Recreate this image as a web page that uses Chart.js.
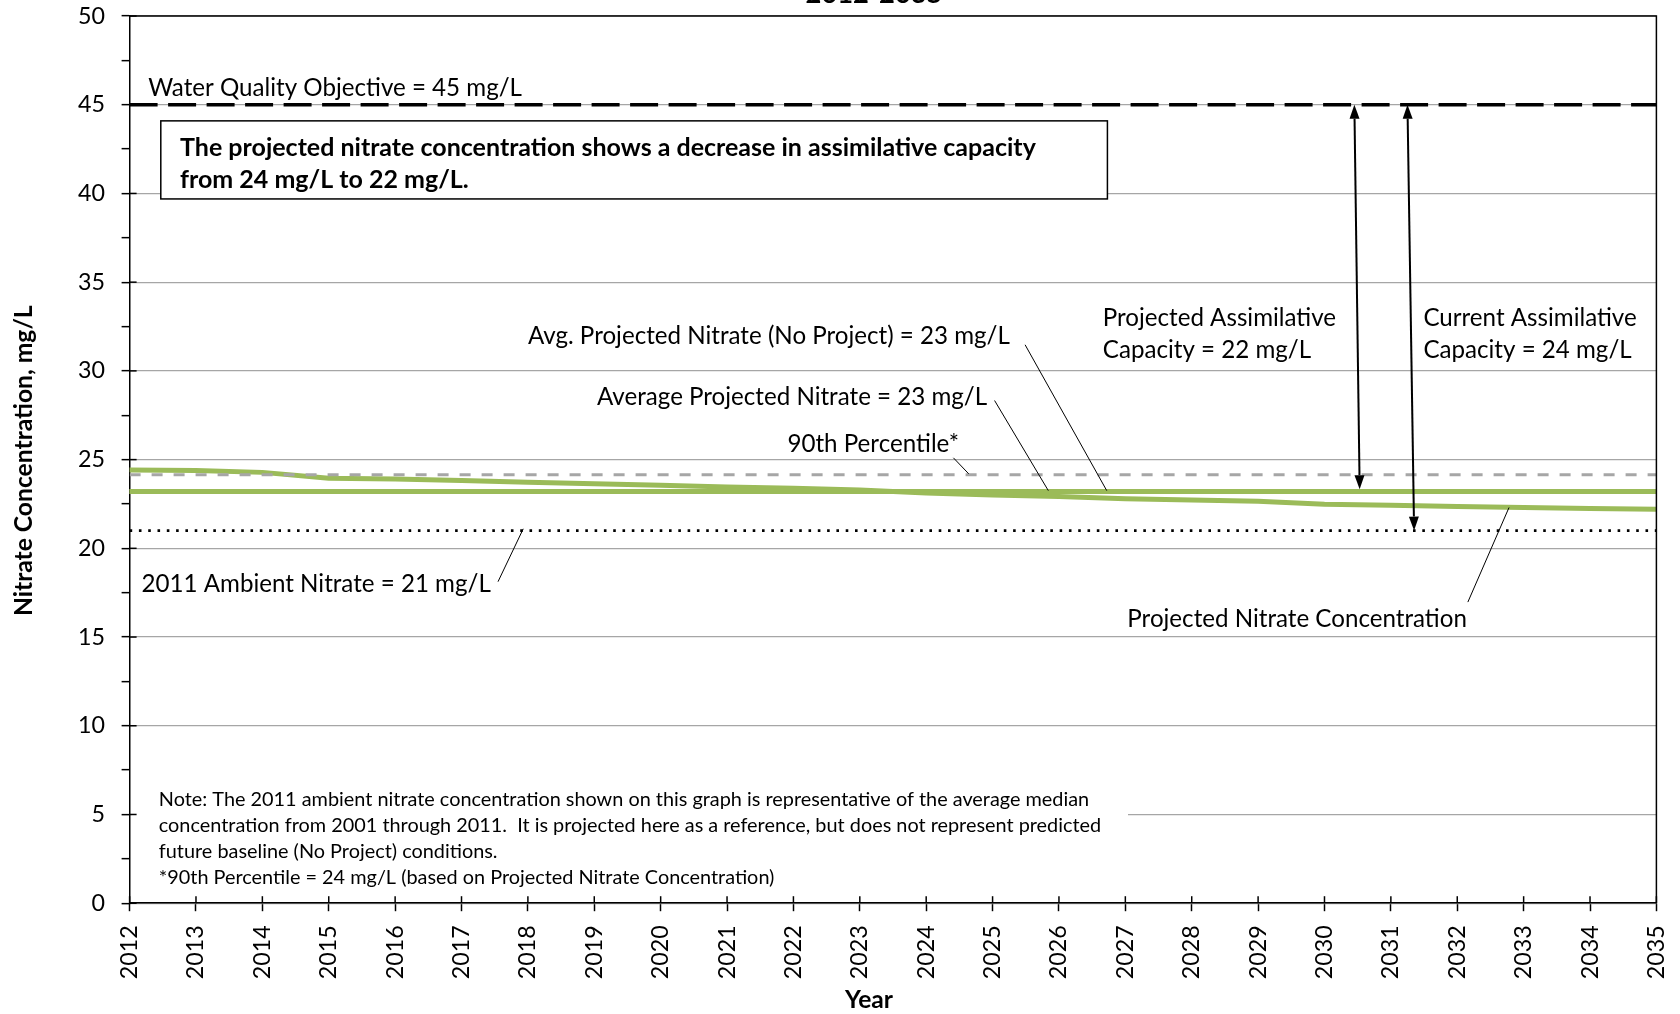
<!DOCTYPE html>
<html><head><meta charset="utf-8">
<script src="https://cdn.jsdelivr.net/npm/chart.js@4"></script>
<style>html,body{margin:0;padding:0;background:#fff;overflow:hidden;}</style>
</head><body>
<canvas id="c" width="1680" height="1014"></canvas>
<script>
// ---------------- data ----------------
const years = [2012,2013,2014,2015,2016,2017,2018,2019,2020,2021,2022,2023,2024,2025,2026,2027,2028,2029,2030,2031,2032,2033,2034,2035];
const projectedNitrate = [24.42,24.38,24.28,23.95,23.90,23.82,23.72,23.64,23.56,23.46,23.38,23.28,23.12,23.00,22.92,22.80,22.73,22.65,22.48,22.43,22.36,22.30,22.25,22.20];
const averageProjected = [23.2,23.2,23.2,23.2,23.2,23.2,23.2,23.2,23.2,23.2,23.2,23.2,23.2,23.2,23.2,23.2,23.2,23.2,23.2,23.2,23.2,23.2,23.2,23.2];
const avgProjectedNoProject = [23.2,23.2,23.2,23.2,23.2,23.2,23.2,23.2,23.2,23.2,23.2,23.2,23.2,23.2,23.2,23.2,23.2,23.2,23.2,23.2,23.2,23.2,23.2,23.2];
const percentile90 = [24.15,24.15,24.15,24.15,24.15,24.15,24.15,24.15,24.15,24.15,24.15,24.15,24.15,24.15,24.15,24.15,24.15,24.15,24.15,24.15,24.15,24.15,24.15,24.15];
const ambient2011 = [21,21,21,21,21,21,21,21,21,21,21,21,21,21,21,21,21,21,21,21,21,21,21,21];
const waterQualityObjective = [45,45,45,45,45,45,45,45,45,45,45,45,45,45,45,45,45,45,45,45,45,45,45,45];
const yMin = 0, yMax = 50, yMajorStep = 5, yMinorStep = 2.5;

// annotation texts (anchored in data coordinates)
const titleText = '2012-2035';
const yTitle = 'Nitrate Concentration, mg/L';
const xTitle = 'Year';
const labels = [
  {t:'Water Quality Objective = 45 mg/L', x:2012.28, y:45.95},
  {t:'Avg. Projected Nitrate (No Project) = 23 mg/L', x:2018.0, y:31.95},
  {t:'Average Projected Nitrate = 23 mg/L', x:2019.04, y:28.51},
  {t:'90th Percentile*', x:2021.91, y:25.85},
  {t:'2011 Ambient Nitrate = 21 mg/L', x:2012.18, y:18.0},
  {t:'Projected Nitrate Concentration', x:2027.03, y:16.0},
  {t:'Projected Assimilative', x:2026.66, y:32.98},
  {t:'Capacity = 22 mg/L', x:2026.66, y:31.16},
  {t:'Current Assimilative', x:2031.49, y:32.98},
  {t:'Capacity = 24 mg/L', x:2031.49, y:31.16}
];
const leaders = [
  [2025.49,31.47,2026.72,23.25],
  [2025.03,28.33,2025.84,23.25],
  [2024.41,25.10,2024.64,24.20],
  [2017.55,18.12,2017.93,21.1],
  [2032.16,16.97,2032.78,22.30]
];
const arrows = [
  [2030.45,45,2030.53,23.33],
  [2031.25,45,2031.35,21.0]
];
const boxText = ['The projected nitrate concentration shows a decrease in assimilative capacity','from 24 mg/L to 22 mg/L.'];
const boxRect = {x1:2012.47, y1:44.09, x2:2026.73, y2:39.69, tx:2012.76, ty:[42.57,40.77]};
const noteText = ['Note: The 2011 ambient nitrate concentration shown on this graph is representative of the average median',
 'concentration from 2001 through 2011.  It is projected here as a reference, but does not represent predicted',
 'future baseline (No Project) conditions.',
 '*90th Percentile = 24 mg/L (based on Projected Nitrate Concentration)'];
const noteRect = {x1:2012.03, y1:6.7, x2:2027.04, y2:0.6, tx:2012.44, ty:[5.86,4.35,2.90,1.45]};

// ---------------- fonts ----------------
const FAMILY = 'Lato, "Open Sans", sans-serif';
const mctx = document.createElement('canvas').getContext('2d');
function fitSize(text, width, weight){ mctx.font = weight+' 100px '+FAMILY; return 100*width/mctx.measureText(text).width; }
const SZ_ANN = fitSize('Water Quality Objective = 45 mg/L', 374, 'normal');
const SZ_BOX = fitSize(boxText[0], 856, 'bold');
const SZ_NOTE = fitSize(noteText[0], 931, 'normal');
const SZ_TICK = fitSize('50', 27, 'normal');
const SZ_AXT = fitSize(yTitle, 311, 'bold');
const SZ_TITLE = fitSize(titleText, 137, 'bold');

const pts = arr => years.map((yr,i)=>({x:yr, y:arr[i]}));

const annot = {
  id:'annot',
  beforeDatasetsDraw(chart){
    const {ctx, scales:{x,y}} = chart;
    ctx.save();
    ctx.fillStyle='#fff';
    ctx.fillRect(x.getPixelForValue(noteRect.x1), y.getPixelForValue(noteRect.y1),
      x.getPixelForValue(noteRect.x2)-x.getPixelForValue(noteRect.x1), y.getPixelForValue(noteRect.y2)-y.getPixelForValue(noteRect.y1));
    const bx=x.getPixelForValue(boxRect.x1), by=y.getPixelForValue(boxRect.y1);
    const bw=x.getPixelForValue(boxRect.x2)-bx, bh=y.getPixelForValue(boxRect.y2)-by;
    ctx.fillRect(bx,by,bw,bh);
    ctx.strokeStyle='#000'; ctx.lineWidth=1.5; ctx.strokeRect(bx,by,bw,bh);
    ctx.restore();
  },
  afterDatasetsDraw(chart){
    const {ctx, chartArea:ca, scales:{x,y}} = chart;
    ctx.save();
    ctx.strokeStyle='#000'; ctx.lineWidth=1;
    leaders.forEach(l=>{ ctx.beginPath(); ctx.moveTo(x.getPixelForValue(l[0]), y.getPixelForValue(l[1])); ctx.lineTo(x.getPixelForValue(l[2]), y.getPixelForValue(l[3])); ctx.stroke(); });
    arrows.forEach(a=>{
      const x1=x.getPixelForValue(a[0]), y1=y.getPixelForValue(a[1]), x2=x.getPixelForValue(a[2]), y2=y.getPixelForValue(a[3]);
      const ang=Math.atan2(y2-y1,x2-x1), L=14, W=5;
      ctx.strokeStyle='#000'; ctx.lineWidth=2;
      ctx.beginPath(); ctx.moveTo(x1+Math.cos(ang)*L, y1+Math.sin(ang)*L); ctx.lineTo(x2-Math.cos(ang)*L, y2-Math.sin(ang)*L); ctx.stroke();
      ctx.fillStyle='#000';
      [[x1,y1,ang+Math.PI],[x2,y2,ang]].forEach(([px,py,d])=>{
        const bx=px-Math.cos(d)*L, byy=py-Math.sin(d)*L;
        ctx.beginPath(); ctx.moveTo(px,py);
        ctx.lineTo(bx+Math.cos(d+Math.PI/2)*W, byy+Math.sin(d+Math.PI/2)*W);
        ctx.lineTo(bx-Math.cos(d+Math.PI/2)*W, byy-Math.sin(d+Math.PI/2)*W);
        ctx.closePath(); ctx.fill();
      });
    });
    ctx.fillStyle='#000'; ctx.textBaseline='middle'; ctx.textAlign='left';
    ctx.font = 'normal '+SZ_ANN+'px '+FAMILY;
    labels.forEach(l=> ctx.fillText(l.t, x.getPixelForValue(l.x), y.getPixelForValue(l.y)));
    ctx.font = 'bold '+SZ_BOX+'px '+FAMILY;
    boxText.forEach((t,i)=> ctx.fillText(t, x.getPixelForValue(boxRect.tx), y.getPixelForValue(boxRect.ty[i])));
    ctx.font = 'normal '+SZ_NOTE+'px '+FAMILY;
    noteText.forEach((t,i)=> ctx.fillText(t, x.getPixelForValue(noteRect.tx), y.getPixelForValue(noteRect.ty[i])));
    ctx.strokeStyle='#000'; ctx.lineWidth=1.5;
    ctx.beginPath(); ctx.moveTo(ca.left, ca.top); ctx.lineTo(ca.right, ca.top); ctx.lineTo(ca.right, ca.bottom); ctx.stroke();
    for(let v=yMin; v<=yMax; v+=yMajorStep){ const py=y.getPixelForValue(v); ctx.beginPath(); ctx.moveTo(ca.left,py); ctx.lineTo(ca.left+7,py); ctx.stroke(); }
    years.forEach(yr=>{ const px=x.getPixelForValue(yr); ctx.beginPath(); ctx.moveTo(px,ca.bottom); ctx.lineTo(px,ca.bottom-7); ctx.stroke(); });
    ctx.font='bold '+SZ_AXT+'px '+FAMILY; ctx.textAlign='center'; ctx.textBaseline='middle';
    ctx.fillText(xTitle, 869, 1000.5);
    ctx.save(); ctx.translate(23.6, 460.7); ctx.rotate(-Math.PI/2); ctx.fillText(yTitle,0,0); ctx.restore();
    ctx.font='bold '+SZ_TITLE+'px '+FAMILY; ctx.textBaseline='alphabetic';
    ctx.fillText(titleText, 874, 2.7);
    ctx.restore();
  }
};

function zeroPad(s){ s.paddingLeft=0; s.paddingRight=0; s.paddingTop=0; s.paddingBottom=0; }

const green='#9BBB59';
new Chart(document.getElementById('c').getContext('2d'), {
  type:'line',
  data:{datasets:[
    {label:'Water Quality Objective = 45 mg/L', data:pts(waterQualityObjective), borderColor:'#000', borderWidth:3.5, borderDash:[28,10.5]},
    {label:'2011 Ambient Nitrate = 21 mg/L', data:pts(ambient2011), borderColor:'#000', borderWidth:2.6, borderDash:[2.6,6.7]},
    {label:'90th Percentile', data:pts(percentile90), borderColor:'#A6A6A6', borderWidth:3, borderDash:[11,11]},
    {label:'Avg. Projected Nitrate (No Project)', data:pts(avgProjectedNoProject), borderColor:green, borderWidth:5, borderCapStyle:'round'},
    {label:'Average Projected Nitrate', data:pts(averageProjected), borderColor:green, borderWidth:5, borderCapStyle:'round'},
    {label:'Projected Nitrate Concentration', data:pts(projectedNitrate), borderColor:green, borderWidth:5, borderCapStyle:'round', borderJoinStyle:'round'}
  ]},
  options:{
    responsive:false, animation:false, devicePixelRatio:1,
    layout:{padding:{left:0,right:23.6,top:16,bottom:0}},
    elements:{point:{radius:0}, line:{tension:0}},
    plugins:{legend:{display:false}, tooltip:{enabled:false}, title:{display:false}},
    scales:{
      x:{type:'linear', min:years[0], max:years[years.length-1],
        ticks:{stepSize:1, autoSkip:false, minRotation:90, maxRotation:90, padding:14, color:'#000', font:{family:FAMILY, size:SZ_TICK}, callback:v=>String(v)},
        grid:{drawOnChartArea:false, tickLength:8, tickColor:'#000', tickWidth:1.5},
        border:{color:'#000', width:1.5},
        afterFit:s=>{ s.height = 1014-903.2; zeroPad(s); }
      },
      y:{min:yMin, max:yMax,
        ticks:{stepSize:yMinorStep, autoSkip:false, padding:16.6, color:'#000', font:{family:FAMILY, size:SZ_TICK}, callback:v=> (v%yMajorStep===0 ? String(v) : '')},
        grid:{color:c=> (c.tick && c.tick.value%yMajorStep===0) ? '#A6A6A6' : 'rgba(0,0,0,0)', lineWidth:1.3, tickLength:8, tickColor:'#000', tickWidth:1.5},
        border:{color:'#000', width:1.5},
        afterFit:s=>{ s.width = 129.6; zeroPad(s); }
      }
    }
  },
  plugins:[annot]
});
</script>
</body></html>
